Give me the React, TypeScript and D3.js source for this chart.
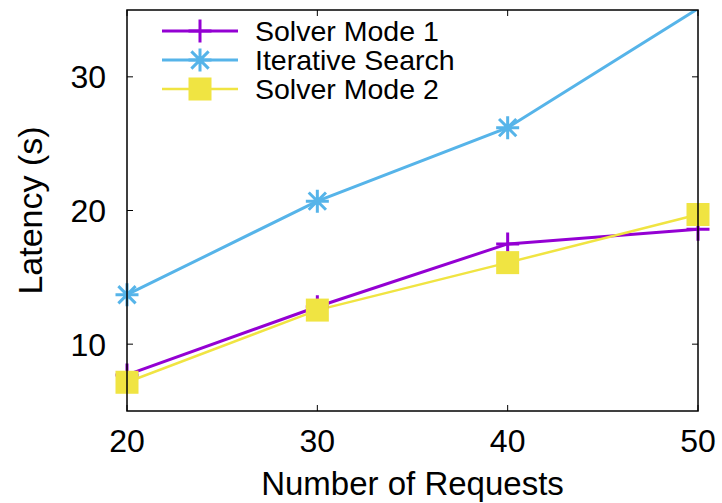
import { useEffect, useRef } from "react";
import * as d3 from "d3";

const requests = [20, 30, 40, 50];
const solverMode1 = [7.7, 12.8, 17.5, 18.6];
const iterativeSearch = [13.7, 20.7, 26.2, 35.1];
const solverMode2 = [7.15, 12.55, 16.1, 19.7];
const xTicks = [20, 30, 40, 50];
const yTicks = [10, 20, 30];

const series = [
    { name: "Solver Mode 1", values: solverMode1, color: "#9400d3", marker: "plus", width: 3 },
    { name: "Iterative Search", values: iterativeSearch, color: "#56b4e9", marker: "star", width: 3 },
    { name: "Solver Mode 2", values: solverMode2, color: "#f0e442", marker: "square", width: 2.5 },
];

export default function App() {
    const svgRef = useRef<SVGSVGElement | null>(null);

    useEffect(() => {
        const width = 722;
        const height = 503;
        const margin = { top: 10, right: 24, bottom: 92, left: 127 };
        const iw = width - margin.left - margin.right;
        const ih = height - margin.top - margin.bottom;
        const font = "'Liberation Sans', Arial, Helvetica, sans-serif";

        const svg = d3.select(svgRef.current!).attr("width", width).attr("height", height);
        svg.selectAll("*").remove();

        const g = svg.append("g").attr("transform", `translate(${margin.left},${margin.top})`);

        const x = d3.scaleLinear().domain([20, 50]).range([0, iw]);
        const y = d3.scaleLinear().domain([5, 35]).range([ih, 0]);

        // ticks (inward, mirrored)
        const tickLen = 6;
        xTicks.forEach((t) => {
            g.append("line").attr("x1", x(t)).attr("x2", x(t)).attr("y1", ih).attr("y2", ih - tickLen).attr("stroke", "#000");
            g.append("line").attr("x1", x(t)).attr("x2", x(t)).attr("y1", 0).attr("y2", tickLen).attr("stroke", "#000");
            g.append("text")
                .attr("x", x(t))
                .attr("y", ih + 41)
                .attr("text-anchor", "middle")
                .attr("font-family", font)
                .attr("font-size", 32)
                .text(t);
        });
        yTicks.forEach((t) => {
            g.append("line").attr("x1", 0).attr("x2", tickLen).attr("y1", y(t)).attr("y2", y(t)).attr("stroke", "#000");
            g.append("line").attr("x1", iw).attr("x2", iw - tickLen).attr("y1", y(t)).attr("y2", y(t)).attr("stroke", "#000");
            g.append("text")
                .attr("x", -21)
                .attr("y", y(t))
                .attr("dy", "0.36em")
                .attr("text-anchor", "end")
                .attr("font-family", font)
                .attr("font-size", 32)
                .text(t);
        });

        // clip lines to plot area
        svg.append("defs").append("clipPath").attr("id", "plotclip")
            .append("rect").attr("x", -30).attr("y", 0).attr("width", iw + 60).attr("height", ih);

        const line = d3
            .line<number>()
            .x((_d, i) => x(requests[i]))
            .y((d) => y(d));

        const drawMarker = (sel: d3.Selection<SVGGElement, unknown, null, undefined>, kind: string, color: string, cx: number, cy: number) => {
            const s = 11.5;
            if (kind === "plus") {
                sel.append("path")
                    .attr("d", `M${cx - s},${cy}H${cx + s}M${cx},${cy - s}V${cy + s}`)
                    .attr("stroke", color).attr("stroke-width", 3).attr("fill", "none");
            } else if (kind === "star") {
                const r = 11.5;
                const d = r * 0.75;
                sel.append("path")
                    .attr("d", `M${cx - r},${cy}H${cx + r}M${cx},${cy - r}V${cy + r}M${cx - d},${cy - d}L${cx + d},${cy + d}M${cx - d},${cy + d}L${cx + d},${cy - d}`)
                    .attr("stroke", color).attr("stroke-width", 3).attr("fill", "none");
            } else {
                sel.append("rect").attr("x", cx - s).attr("y", cy - s).attr("width", 2 * s).attr("height", 2 * s).attr("fill", color);
            }
        };

        const plot = g.append("g").attr("clip-path", "url(#plotclip)");
        series.forEach((s) => {
            plot.append("path")
                .datum(s.values)
                .attr("fill", "none")
                .attr("stroke", s.color)
                .attr("stroke-width", s.width)
                .attr("d", line as any);
        });
        series.forEach((s) => {
            const mg = g.append("g");
            s.values.forEach((v, i) => {
                // points outside the y range are not drawn (gnuplot style)
                if (v > y.domain()[1] || v < y.domain()[0]) return;
                drawMarker(mg, s.marker, s.color, x(requests[i]), y(v));
            });
        });

        // border
        g.append("rect").attr("width", iw).attr("height", ih).attr("fill", "none").attr("stroke", "#000").attr("stroke-width", 1.5);

        // legend
        const legend = svg.append("g");
        series.forEach((s, i) => {
            const ly = 31 + i * 29;
            const lg = legend.append("g");
            lg.append("line").attr("x1", 162).attr("x2", 238).attr("y1", ly).attr("y2", ly)
                .attr("stroke", s.color).attr("stroke-width", s.width);
            drawMarker(lg, s.marker, s.color, 200, ly);
            lg.append("text")
                .attr("x", 255)
                .attr("y", ly)
                .attr("dy", "0.36em")
                .attr("font-family", font)
                .attr("font-size", 28.5)
                .text(s.name);
        });

        // axis titles
        svg.append("text")
            .attr("x", margin.left + iw / 2)
            .attr("y", 495)
            .attr("text-anchor", "middle")
            .attr("font-family", font)
            .attr("font-size", 33)
            .text("Number of Requests");
        svg.append("text")
            .attr("transform", `translate(42,${margin.top + ih / 2}) rotate(-90)`)
            .attr("text-anchor", "middle")
            .attr("font-family", font)
            .attr("font-size", 34)
            .text("Latency (s)");
    }, []);

    return (
        <div style={{ position: "absolute", left: 0, top: 0 }}>
            <svg ref={svgRef} style={{ display: "block" }} />
        </div>
    );
}
